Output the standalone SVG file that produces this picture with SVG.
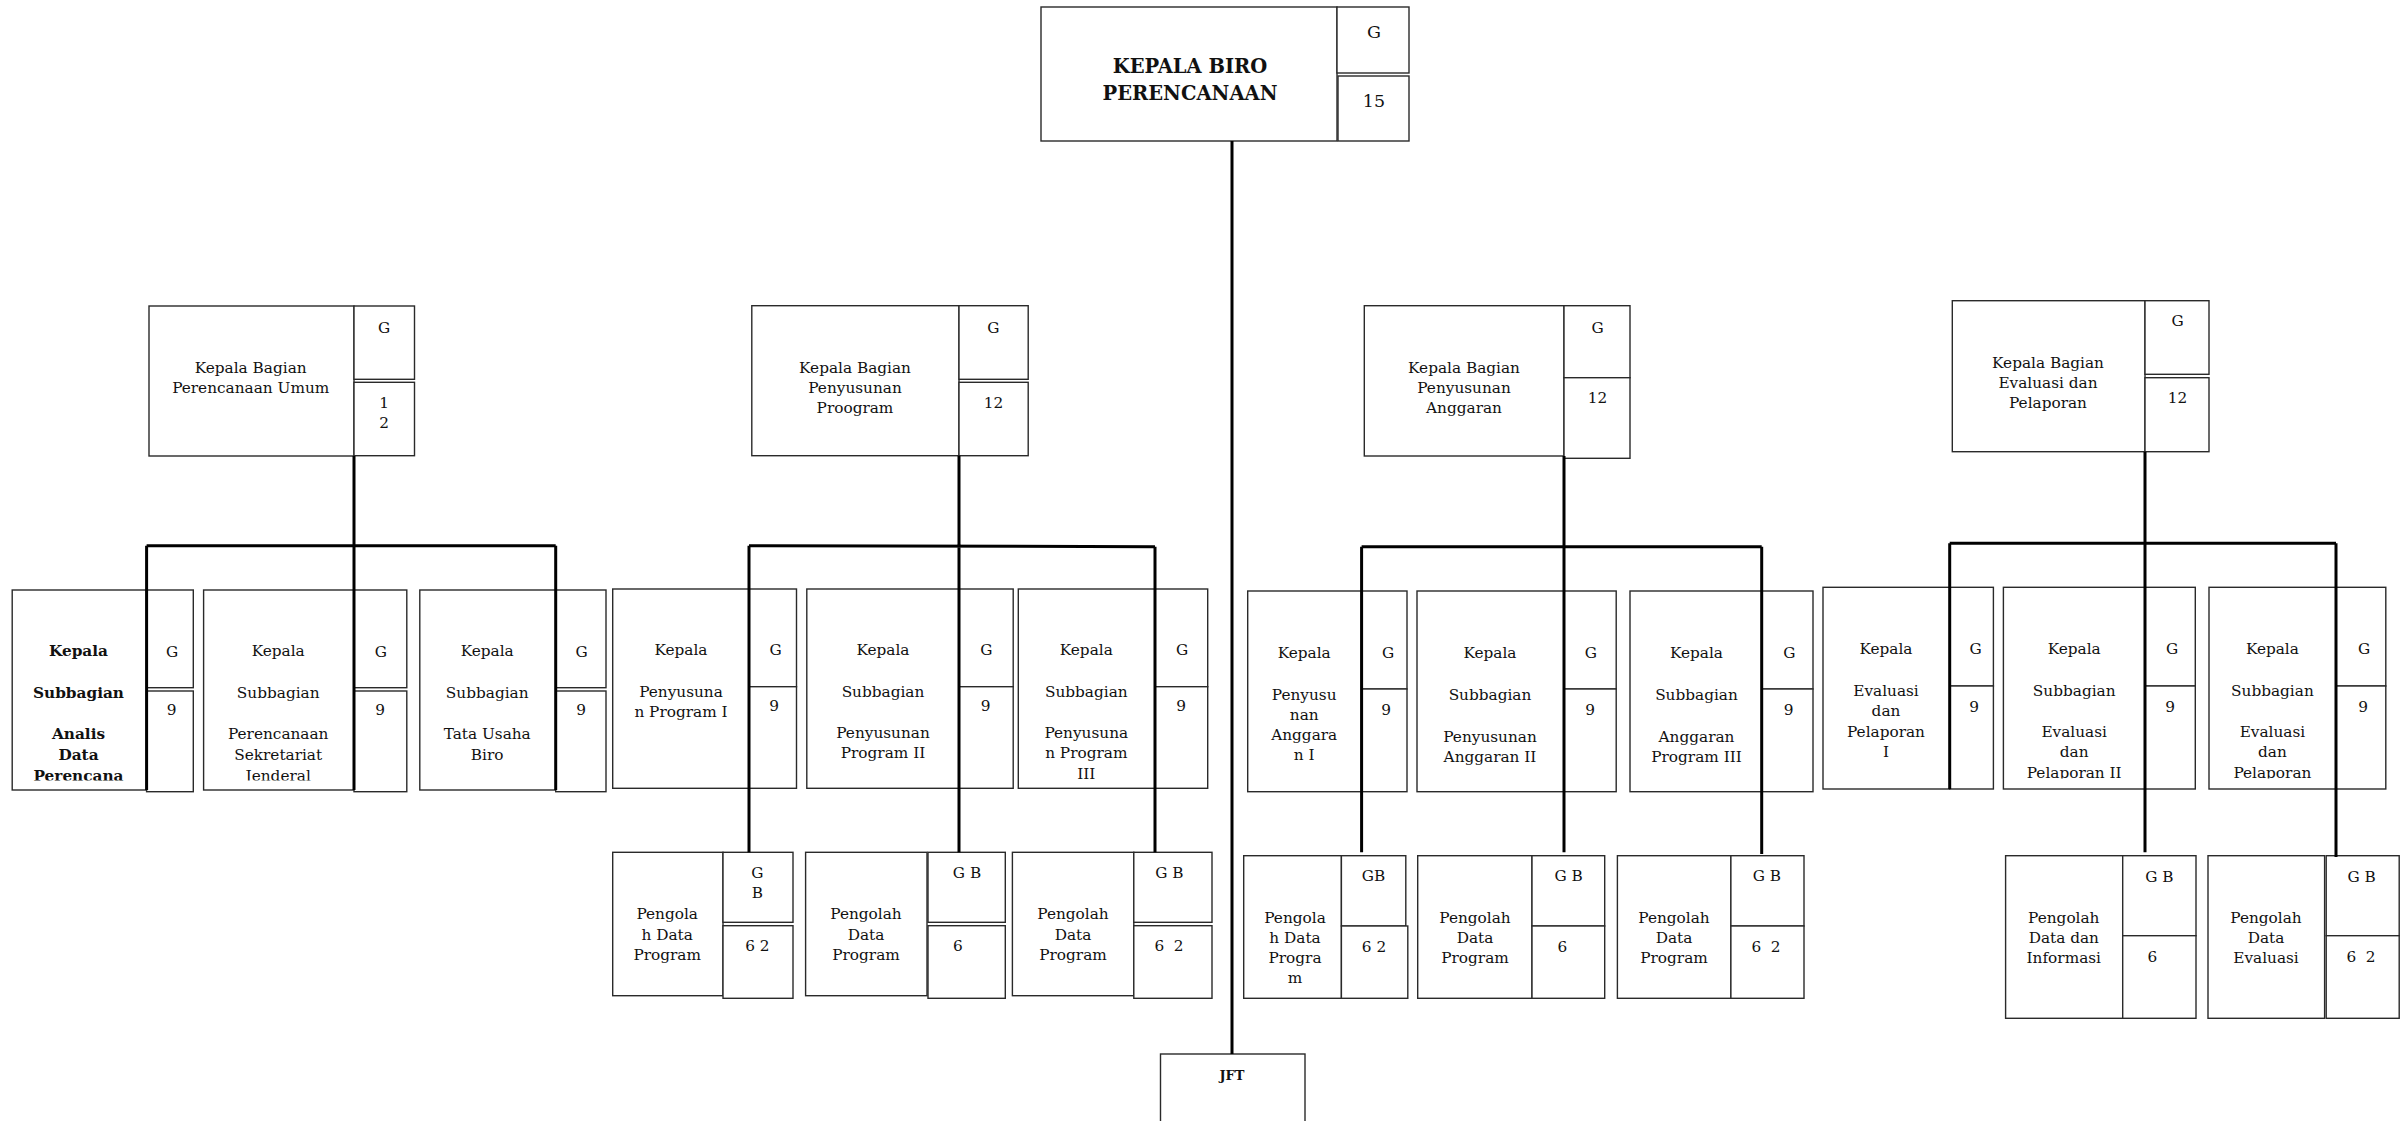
<svg xmlns="http://www.w3.org/2000/svg" width="2401" height="1121" viewBox="0 0 2401 1121">
<style>
.box{fill:#fff;stroke:#2a2a2a;stroke-width:1.4}
.t{font-family:"DejaVu Serif","Liberation Serif",serif;font-size:15.3px;text-anchor:middle;fill:#111}
.b{font-weight:bold}
.big{font-size:17.5px}
.title{font-size:19.5px;font-weight:bold}
.conn{stroke:#000;stroke-width:3;fill:none}
</style>
<defs>
<clipPath id="c1"><rect x="0" y="580" width="2401" height="200.5"/></clipPath>
<clipPath id="c2"><rect x="0" y="580" width="2401" height="199"/></clipPath>
<clipPath id="c3"><rect x="0" y="580" width="2401" height="198.5"/></clipPath>
</defs>
<rect width="2401" height="1121" fill="#fff"/>

<g id="kepala-biro">
<rect class="box" x="1041" y="7" width="296" height="134"/>
<rect class="box" x="1337" y="7" width="72" height="66"/>
<rect class="box" x="1338" y="76" width="71" height="65"/>
<text class="t title" x="1190" y="73">KEPALA BIRO</text>
<text class="t title" x="1190" y="100">PERENCANAAN</text>
<text class="t big" x="1374" y="38">G</text>
<text class="t big" x="1374" y="107">15</text>
</g>

<g id="bagian-umum">
<rect class="box" x="149" y="306" width="205" height="150"/>
<rect class="box" x="354" y="306" width="60.5" height="73.3"/>
<rect class="box" x="354" y="382.3" width="60.5" height="73.4"/>
<text class="t" x="250.7" y="373.3">Kepala Bagian</text>
<text class="t" x="250.7" y="393">Perencanaan Umum</text>
<text class="t" x="384" y="333">G</text>
<text class="t" x="384" y="408">1</text>
<text class="t" x="384" y="428">2</text>
</g>

<g id="bagian-program">
<rect class="box" x="751.8" y="305.7" width="207.2" height="150"/>
<rect class="box" x="959" y="305.7" width="69.2" height="73.6"/>
<rect class="box" x="959" y="382.3" width="69.2" height="73.4"/>
<text class="t" x="855" y="373.3">Kepala Bagian</text>
<text class="t" x="855" y="393.3">Penyusunan</text>
<text class="t" x="855" y="413.3">Proogram</text>
<text class="t" x="993.4" y="332.7">G</text>
<text class="t" x="993.4" y="408.3">12</text>
</g>

<g id="bagian-anggaran">
<rect class="box" x="1364.3" y="305.7" width="199.7" height="150.3"/>
<rect class="box" x="1564" y="305.7" width="66" height="72"/>
<rect class="box" x="1564" y="377.7" width="66" height="80.6"/>
<text class="t" x="1464" y="373.3">Kepala Bagian</text>
<text class="t" x="1464" y="393.3">Penyusunan</text>
<text class="t" x="1464" y="413.3">Anggaran</text>
<text class="t" x="1597.6" y="332.7">G</text>
<text class="t" x="1597.6" y="403.3">12</text>
</g>

<g id="bagian-evaluasi">
<rect class="box" x="1952.3" y="300.7" width="192.7" height="151"/>
<rect class="box" x="2145" y="300.7" width="64" height="73.6"/>
<rect class="box" x="2145" y="377.7" width="64" height="74"/>
<text class="t" x="2048" y="368.3">Kepala Bagian</text>
<text class="t" x="2048" y="388.3">Evaluasi dan</text>
<text class="t" x="2048" y="408.3">Pelaporan</text>
<text class="t" x="2177.5" y="326">G</text>
<text class="t" x="2177.5" y="403.3">12</text>
</g>

<g id="sub-analis-data">
<rect class="box" x="12.2" y="590" width="134.4" height="200"/>
<rect class="box" x="146.6" y="590" width="46.7" height="97.7"/>
<rect class="box" x="146.6" y="691" width="46.7" height="100.7"/>
<g clip-path="url(#c1)">
<text class="t b" x="78.5" y="656">Kepala</text>
<text class="t b" x="78.5" y="698.3">Subbagian</text>
<text class="t b" x="78.5" y="739.3">Analis</text>
<text class="t b" x="78.5" y="760">Data</text>
<text class="t b" x="78.5" y="781">Perencana</text>
</g>
<text class="t" x="172" y="657">G</text>
<text class="t" x="171.5" y="715">9</text>
</g>

<g id="sub-perencanaan-setjen">
<rect class="box" x="203.6" y="590" width="150.4" height="200"/>
<rect class="box" x="354" y="590" width="52.8" height="97.7"/>
<rect class="box" x="354" y="691" width="52.8" height="100.7"/>
<g clip-path="url(#c1)">
<text class="t" x="278.2" y="656">Kepala</text>
<text class="t" x="278.2" y="698.3">Subbagian</text>
<text class="t" x="278.2" y="739.3">Perencanaan</text>
<text class="t" x="278.2" y="760">Sekretariat</text>
<text class="t" x="278.2" y="781">Jenderal</text>
</g>
<text class="t" x="380.8" y="657">G</text>
<text class="t" x="380" y="715">9</text>
</g>

<g id="sub-tata-usaha">
<rect class="box" x="419.8" y="590" width="135.9" height="200"/>
<rect class="box" x="555.7" y="590" width="50.3" height="97.7"/>
<rect class="box" x="555.7" y="691" width="50.3" height="100.7"/>
<text class="t" x="487.2" y="656">Kepala</text>
<text class="t" x="487.2" y="698.3">Subbagian</text>
<text class="t" x="487.2" y="739.3">Tata Usaha</text>
<text class="t" x="487.2" y="760">Biro</text>
<text class="t" x="581.7" y="657">G</text>
<text class="t" x="581" y="715">9</text>
</g>

<g id="sub-program-1">
<rect class="box" x="612.7" y="589" width="136.3" height="199.3"/>
<rect class="box" x="749" y="589" width="47.5" height="97.7"/>
<rect class="box" x="749" y="686.7" width="47.5" height="101.6"/>
<text class="t" x="681" y="655">Kepala</text>
<text class="t" x="681" y="697.3">Penyusuna</text>
<text class="t" x="681" y="717.3">n Program I</text>
<text class="t" x="775.6" y="655">G</text>
<text class="t" x="774" y="710.7">9</text>
</g>

<g id="sub-program-2">
<rect class="box" x="806.8" y="589" width="152.2" height="199.3"/>
<rect class="box" x="959" y="589" width="54.2" height="97.7"/>
<rect class="box" x="959" y="686.7" width="54.2" height="101.6"/>
<text class="t" x="883" y="655">Kepala</text>
<text class="t" x="883" y="697.3">Subbagian</text>
<text class="t" x="883" y="738.3">Penyusunan</text>
<text class="t" x="883" y="758.3">Program II</text>
<text class="t" x="986.3" y="655">G</text>
<text class="t" x="985.7" y="710.7">9</text>
</g>

<g id="sub-program-3">
<rect class="box" x="1018.3" y="589" width="136.7" height="199.3"/>
<rect class="box" x="1155" y="589" width="52.7" height="97.7"/>
<rect class="box" x="1155" y="686.7" width="52.7" height="101.6"/>
<g clip-path="url(#c2)">
<text class="t" x="1086.3" y="655">Kepala</text>
<text class="t" x="1086.3" y="697.3">Subbagian</text>
<text class="t" x="1086.3" y="738.3">Penyusuna</text>
<text class="t" x="1086.3" y="758.3">n Program</text>
<text class="t" x="1086.3" y="779.3">III</text>
</g>
<text class="t" x="1182" y="655">G</text>
<text class="t" x="1181" y="710.7">9</text>
</g>

<g id="sub-anggaran-1">
<rect class="box" x="1247.7" y="591" width="113.9" height="200.7"/>
<rect class="box" x="1361.6" y="591" width="45.4" height="98"/>
<rect class="box" x="1361.6" y="689" width="45.4" height="102.7"/>
<text class="t" x="1304.2" y="657.7">Kepala</text>
<text class="t" x="1304.2" y="700">Penyusu</text>
<text class="t" x="1304.2" y="720">nan</text>
<text class="t" x="1304.2" y="740">Anggara</text>
<text class="t" x="1304.2" y="760">n I</text>
<text class="t" x="1388" y="657.7">G</text>
<text class="t" x="1386" y="715">9</text>
</g>

<g id="sub-anggaran-2">
<rect class="box" x="1417" y="591" width="147" height="200.7"/>
<rect class="box" x="1564" y="591" width="52.2" height="98"/>
<rect class="box" x="1564" y="689" width="52.2" height="102.7"/>
<text class="t" x="1490" y="657.7">Kepala</text>
<text class="t" x="1490" y="700">Subbagian</text>
<text class="t" x="1490" y="741.7">Penyusunan</text>
<text class="t" x="1490" y="761.7">Anggaran II</text>
<text class="t" x="1590.9" y="657.7">G</text>
<text class="t" x="1590" y="715">9</text>
</g>

<g id="sub-anggaran-3">
<rect class="box" x="1630" y="591" width="131.7" height="200.7"/>
<rect class="box" x="1761.7" y="591" width="51.3" height="98"/>
<rect class="box" x="1761.7" y="689" width="51.3" height="102.7"/>
<text class="t" x="1696.5" y="657.7">Kepala</text>
<text class="t" x="1696.5" y="700">Subbagian</text>
<text class="t" x="1696.5" y="741.7">Anggaran</text>
<text class="t" x="1696.5" y="761.7">Program III</text>
<text class="t" x="1789.4" y="657.7">G</text>
<text class="t" x="1788.5" y="715">9</text>
</g>

<g id="sub-evaluasi-1">
<rect class="box" x="1823" y="587.3" width="126.7" height="201.7"/>
<rect class="box" x="1949.7" y="587.3" width="43.7" height="98.7"/>
<rect class="box" x="1949.7" y="686" width="43.7" height="103"/>
<text class="t" x="1886" y="654.3">Kepala</text>
<text class="t" x="1886" y="696">Evaluasi</text>
<text class="t" x="1886" y="716">dan</text>
<text class="t" x="1886" y="736.7">Pelaporan</text>
<text class="t" x="1886" y="756.7">I</text>
<text class="t" x="1975.6" y="654.3">G</text>
<text class="t" x="1974" y="711.7">9</text>
</g>

<g id="sub-evaluasi-2">
<rect class="box" x="2003.4" y="587.3" width="141.6" height="201.7"/>
<rect class="box" x="2145" y="587.3" width="50.3" height="98.7"/>
<rect class="box" x="2145" y="686" width="50.3" height="103"/>
<g clip-path="url(#c3)">
<text class="t" x="2074.2" y="654.3">Kepala</text>
<text class="t" x="2074.2" y="696">Subbagian</text>
<text class="t" x="2074.2" y="737">Evaluasi</text>
<text class="t" x="2074.2" y="757">dan</text>
<text class="t" x="2074.2" y="777.5">Pelaporan II</text>
</g>
<text class="t" x="2172" y="654.3">G</text>
<text class="t" x="2170" y="711.7">9</text>
</g>

<g id="sub-evaluasi-3">
<rect class="box" x="2209" y="587.3" width="126.7" height="201.7"/>
<rect class="box" x="2335.7" y="587.3" width="50.1" height="98.7"/>
<rect class="box" x="2335.7" y="686" width="50.1" height="103"/>
<g clip-path="url(#c3)">
<text class="t" x="2272.4" y="654.3">Kepala</text>
<text class="t" x="2272.4" y="696">Subbagian</text>
<text class="t" x="2272.4" y="737">Evaluasi</text>
<text class="t" x="2272.4" y="757">dan</text>
<text class="t" x="2272.4" y="777.5">Pelaporan</text>
</g>
<text class="t" x="2364" y="654.3">G</text>
<text class="t" x="2363" y="711.7">9</text>
</g>

<g id="pengolah-program-1">
<rect class="box" x="612.7" y="852.3" width="110.3" height="143.4"/>
<rect class="box" x="723" y="852.3" width="70" height="70"/>
<rect class="box" x="723" y="925.7" width="70" height="72.6"/>
<text class="t" x="667.2" y="919.3">Pengola</text>
<text class="t" x="667.2" y="940">h Data</text>
<text class="t" x="667.2" y="960">Program</text>
<text class="t" x="757.4" y="877.7">G</text>
<text class="t" x="757.4" y="897.7">B</text>
<text class="t" x="757.4" y="951">6 2</text>
</g>

<g id="pengolah-program-2">
<rect class="box" x="805.6" y="852.3" width="121.4" height="143.4"/>
<rect class="box" x="928" y="852.3" width="77.3" height="70"/>
<rect class="box" x="928" y="925.7" width="77.3" height="72.6"/>
<text class="t" x="866" y="919.3">Pengolah</text>
<text class="t" x="866" y="940">Data</text>
<text class="t" x="866" y="960">Program</text>
<text class="t" x="967" y="877.7">G B</text>
<text class="t" x="957.8" y="951">6</text>
</g>

<g id="pengolah-program-3">
<rect class="box" x="1012.4" y="852.3" width="121.4" height="143.4"/>
<rect class="box" x="1133.8" y="852.3" width="78.2" height="70"/>
<rect class="box" x="1133.8" y="925.7" width="78.2" height="72.6"/>
<text class="t" x="1073" y="919.3">Pengolah</text>
<text class="t" x="1073" y="940">Data</text>
<text class="t" x="1073" y="960">Program</text>
<text class="t" x="1169.4" y="877.7">G B</text>
<text class="t" x="1169" y="951" xml:space="preserve">6  2</text>
</g>

<g id="pengolah-anggaran-1">
<rect class="box" x="1243.7" y="855.7" width="97.7" height="142.6"/>
<rect class="box" x="1341.4" y="855.7" width="64.4" height="70.3"/>
<rect class="box" x="1341.4" y="926" width="66.4" height="72.3"/>
<text class="t" x="1295" y="922.7">Pengola</text>
<text class="t" x="1295" y="942.7">h Data</text>
<text class="t" x="1295" y="963.3">Progra</text>
<text class="t" x="1295" y="983.3">m</text>
<text class="t" x="1373.4" y="881">GB</text>
<text class="t" x="1374" y="951.7">6 2</text>
</g>

<g id="pengolah-anggaran-2">
<rect class="box" x="1417.7" y="855.7" width="114.3" height="142.6"/>
<rect class="box" x="1532" y="855.7" width="72.7" height="70.3"/>
<rect class="box" x="1532" y="926" width="72.7" height="72.3"/>
<text class="t" x="1475" y="922.7">Pengolah</text>
<text class="t" x="1475" y="942.7">Data</text>
<text class="t" x="1475" y="963.3">Program</text>
<text class="t" x="1568.7" y="881">G B</text>
<text class="t" x="1562.4" y="951.7">6</text>
</g>

<g id="pengolah-anggaran-3">
<rect class="box" x="1617.4" y="855.7" width="113.5" height="142.6"/>
<rect class="box" x="1730.9" y="855.7" width="73.1" height="70.3"/>
<rect class="box" x="1730.9" y="926" width="73.1" height="72.3"/>
<text class="t" x="1674" y="922.7">Pengolah</text>
<text class="t" x="1674" y="942.7">Data</text>
<text class="t" x="1674" y="963.3">Program</text>
<text class="t" x="1766.8" y="881">G B</text>
<text class="t" x="1766" y="951.7" xml:space="preserve">6  2</text>
</g>

<g id="pengolah-informasi">
<rect class="box" x="2005.6" y="855.7" width="117.1" height="162.6"/>
<rect class="box" x="2122.7" y="855.7" width="73.3" height="80"/>
<rect class="box" x="2122.7" y="935.7" width="73.3" height="82.6"/>
<text class="t" x="2063.8" y="922.7">Pengolah</text>
<text class="t" x="2063.8" y="942.7">Data dan</text>
<text class="t" x="2063.8" y="963.3">Informasi</text>
<text class="t" x="2159.4" y="881.7">G B</text>
<text class="t" x="2152.3" y="961.7">6</text>
</g>

<g id="pengolah-evaluasi">
<rect class="box" x="2208" y="855.7" width="116.6" height="162.6"/>
<rect class="box" x="2326.2" y="855.7" width="73" height="80"/>
<rect class="box" x="2326.2" y="935.7" width="73" height="82.6"/>
<text class="t" x="2266" y="922.7">Pengolah</text>
<text class="t" x="2266" y="942.7">Data</text>
<text class="t" x="2266" y="963.3">Evaluasi</text>
<text class="t" x="2361.7" y="881.7">G B</text>
<text class="t" x="2361" y="961.7" xml:space="preserve">6  2</text>
</g>

<g id="jft">
<rect class="box" x="1160.5" y="1054" width="144.5" height="80"/>
<text class="t b" style="font-size:13px" x="1232" y="1080">JFT</text>
</g>

<g id="connectors">
<path class="conn" d="M1232 141V1054"/>
<path class="conn" d="M354 456V790M146.6 545.7H555.7M146.6 545.7V790M555.7 545.7V790"/>
<path class="conn" d="M959 455.7V852.3M749 545.7L1155 546.7M749 545.7V852.3M1155 546.7V852.3"/>
<path class="conn" d="M1564 456V852.3M1361.6 546.7H1761.7M1361.6 546.7V852.3M1761.7 546.7V854"/>
<path class="conn" d="M2145 451.7V852.3M1949.7 543.3H2336M1949.7 543.3V789M2336 543.3V857"/>
</g>
</svg>
